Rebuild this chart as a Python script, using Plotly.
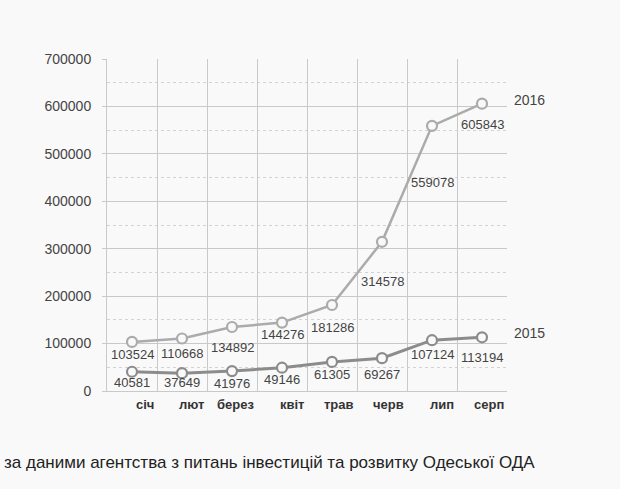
import plotly.graph_objects as go

months = ["січ", "лют", "берез", "квіт", "трав", "черв", "лип", "серп"]
values_2016 = [103524, 110668, 134892, 144276, 181286, 314578, 559078, 605843]
values_2015 = [40581, 37649, 41976, 49146, 61305, 69267, 107124, 113194]
source_text = "за даними агентства з питань інвестицій та розвитку Одеської ОДА"

# label offsets (pixels below each point), styling only
shift_2016 = [13, 15, 20, 12, 22, 40, 57, 21]
shift_2015 = [11, 9, 12, 12, 13, 16, 14, 20]

FONT = "Liberation Sans, Arial, sans-serif"
TXT = "#444444"
BG = "#f9f9f9"

fig = go.Figure()

series = [
    ("2016", values_2016, "#ababab", 2.5, shift_2016),
    ("2015", values_2015, "#8c8c8c", 3, shift_2015),
]
for name, vals, col, lw, shifts in series:
    fig.add_trace(go.Scatter(
        x=list(range(len(months))), y=vals, mode="lines+markers", name=name,
        line=dict(color=col, width=lw),
        marker=dict(symbol="circle", size=10, color=BG,
                    line=dict(color=col, width=2.2)),
        showlegend=False, hoverinfo="skip",
    ))
    for i, v in enumerate(vals):
        fig.add_annotation(x=i, y=v, text=str(v), showarrow=False,
                           yshift=-shifts[i], xanchor="center", yanchor="middle",
                           font=dict(family=FONT, size=13, color=TXT))
    fig.add_annotation(x=1, xref="paper", y=vals[-1], text=name, showarrow=False,
                       xanchor="left", yanchor="middle", xshift=5, yshift=4,
                       font=dict(family=FONT, size=14, color=TXT))

for i, m in enumerate(months):
    fig.add_annotation(x=i + 0.5, y=0, text="<b>" + m + "</b>", showarrow=False,
                       xanchor="right", yanchor="middle", yshift=-13, xshift=-1,
                       font=dict(family=FONT, size=13, color="#333333"))

fig.add_annotation(x=0, xref="paper", y=0, yref="paper", text=source_text,
                   showarrow=False, xanchor="left", yanchor="middle",
                   xshift=-105, yshift=-71,
                   font=dict(family=FONT, size=17, color="#222222"))

fig.update_xaxes(range=[-0.5, len(months) - 0.5], tickmode="array",
                 tickvals=[i - 0.5 for i in range(len(months) + 1)],
                 showticklabels=False, showgrid=True, gridcolor="#c9c9c9",
                 gridwidth=1, zeroline=False, showline=True, linecolor="#c9c9c9",
                 linewidth=1, mirror=False, ticks="")
fig.update_yaxes(range=[0, 700000], dtick=100000, tick0=0, tickformat="d",
                 showgrid=True, gridcolor="#c9c9c9", gridwidth=1,
                 zeroline=False, showline=True, linecolor="#c9c9c9",
                 ticks="outside", ticklen=4, tickcolor="#c9c9c9",
                 ticklabelstandoff=8,
                 tickfont=dict(family=FONT, size=14, color=TXT),
                 minor=dict(dtick=50000, tick0=0, showgrid=True, griddash="3px,3px",
                            gridcolor="#d2d2d2", gridwidth=1))

fig.update_layout(
    width=620, height=489,
    margin=dict(l=107, r=113, t=59, b=98),
    paper_bgcolor=BG, plot_bgcolor=BG,
    font=dict(family=FONT, color=TXT),
)

fig.write_html("out.html", config={"displayModeBar": False},
               post_script="document.body.style.margin='0';document.body.style.background='#f9f9f9';document.body.style.overflow='hidden';")
